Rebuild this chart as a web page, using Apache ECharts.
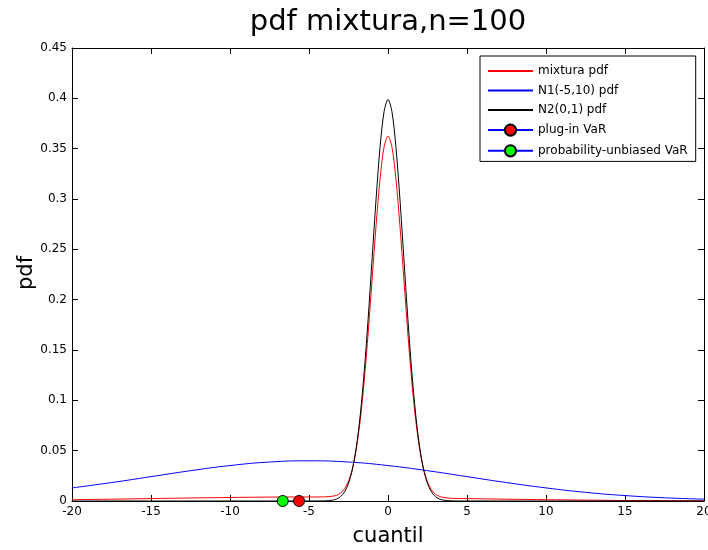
<!DOCTYPE html>
<html>
<head>
<meta charset="utf-8">
<script src="https://cdn.jsdelivr.net/npm/echarts@6/dist/echarts.min.js"></script>
<style>
html,body{margin:0;padding:0;background:#fff;}
#c{width:708px;height:550px;}
</style>
</head>
<body>
<div id="c"></div>
<script>
// ---- data ----
const mixX = [-20,-17.5,-15,-12.5,-10,-7.5,-5,-4,-3.5,-3.25,-3,-2.75,-2.5,-2.25,-2,-1.75,-1.5,-1.25,-1,-0.75,-0.5,-0.25,0,0.25,0.5,0.75,1,1.25,1.5,1.75,2,2.25,2.5,2.75,3,3.25,3.5,4,5,7.5,10,12.5,15,17.5,20];
const mixY = [0.0013,0.0018,0.0024,0.0030,0.0035,0.0039,0.0040,0.0041,0.0048,0.0057,0.0079,0.0121,0.0196,0.0323,0.0524,0.0815,0.1203,0.1680,0.2215,0.2746,0.3205,0.3516,0.3625,0.3515,0.3203,0.2744,0.2211,0.1676,0.1198,0.0809,0.0517,0.0316,0.0188,0.0111,0.0069,0.0046,0.0036,0.0027,0.0024,0.0018,0.0013,0.0009,0.0005,0.0003,0.0002];

const n1X = [-20,-17.5,-15,-12.5,-10,-7.5,-5,-2.5,0,2.5,5,7.5,10,12.5,15,17.5,20];
const n1Y = [0.0130,0.0183,0.0242,0.0301,0.0352,0.0387,0.0399,0.0387,0.0352,0.0301,0.0242,0.0183,0.0130,0.0086,0.0054,0.0032,0.0018];

const n2X = [-20,-10,-5,-4,-3.5,-3.25,-3,-2.75,-2.5,-2.25,-2,-1.75,-1.5,-1.25,-1,-0.75,-0.5,-0.25,0,0.25,0.5,0.75,1,1.25,1.5,1.75,2,2.25,2.5,2.75,3,3.25,3.5,4,5,10,20];
const n2Y = [0,0,0,0.0001,0.0009,0.0020,0.0044,0.0091,0.0175,0.0317,0.0540,0.0863,0.1295,0.1826,0.2420,0.3011,0.3521,0.3867,0.3989,0.3867,0.3521,0.3011,0.2420,0.1826,0.1295,0.0863,0.0540,0.0317,0.0175,0.0091,0.0044,0.0020,0.0009,0.0001,0,0,0];

const plugInVaR = [-5.63, 0];
const unbiasedVaR = [-6.66, 0];

const seriesNames = ['mixtura pdf','N1(-5,10) pdf','N2(0,1) pdf','plug-in VaR','probability-unbiased VaR'];
const titleText = 'pdf mixtura,n=100';
const xLabel = 'cuantil';
const yLabel = 'pdf';

const zip = (xs, ys) => xs.map((x, i) => [x, ys[i]]);

const FONT = 'DejaVu Sans';
const chart = echarts.init(document.getElementById('c'), null, {renderer: 'canvas'});

const axisCommon = {
  axisLine: {show: true, onZero: false, lineStyle: {color: '#000', width: 1}},
  axisTick: {show: true, inside: true, length: 6, lineStyle: {color: '#000'}},
  splitLine: {show: false}
};

const option = {
  backgroundColor: '#fff',
  animation: false,
  textStyle: {fontFamily: FONT},
  grid: {left: 72, right: 4, top: 48, bottom: 49, containLabel: false, outerBoundsMode: 'none'},
  xAxis: [
    Object.assign({type: 'value', min: -20, max: 20, interval: 5, position: 'bottom',
      axisLabel: {color: '#000', fontSize: 12, fontFamily: FONT, margin: 5}}, axisCommon),
    Object.assign({type: 'value', min: -20, max: 20, interval: 5, position: 'top',
      axisLabel: {show: false}}, axisCommon)
  ],
  yAxis: [
    Object.assign({type: 'value', min: 0, max: 0.45, interval: 0.05, position: 'left',
      axisLabel: {color: '#000', fontSize: 12, fontFamily: FONT, margin: 5}}, axisCommon),
    Object.assign({type: 'value', min: 0, max: 0.45, interval: 0.05, position: 'right',
      axisLabel: {show: false}}, axisCommon)
  ],
  legend: {
    orient: 'vertical',
    left: 480, top: 56,
    padding: [9, 8, 4, 7],
    itemGap: 7.5,
    itemWidth: 45,
    itemHeight: 14,
    borderColor: '#000',
    borderWidth: 1,
    backgroundColor: '#fff',
    textStyle: {color: '#000', fontSize: 12, fontFamily: FONT},
    data: [
      {name: seriesNames[0], itemStyle: {opacity: 0}},
      {name: seriesNames[1], itemStyle: {opacity: 0}},
      {name: seriesNames[2], itemStyle: {opacity: 0}},
      {name: seriesNames[3]},
      {name: seriesNames[4]}
    ]
  },
  graphic: [
    {type: 'text', x: 388, y: 22, style: {text: titleText, fill: '#000', font: '29px "DejaVu Sans"', textAlign: 'center', textVerticalAlign: 'middle'}},
    {type: 'text', x: 388, y: 537, style: {text: xLabel, fill: '#000', font: '21px "DejaVu Sans"', textAlign: 'center', textVerticalAlign: 'middle'}},
    {type: 'text', x: 27, y: 273, rotation: Math.PI / 2, style: {text: yLabel, fill: '#000', font: '21px "DejaVu Sans"', textAlign: 'center', textVerticalAlign: 'middle'}}
  ],
  series: [
    {name: seriesNames[0], type: 'line', data: zip(mixX, mixY), symbol: 'none', smooth: 0.3,
      lineStyle: {color: '#ff0000', width: 1}, itemStyle: {color: '#ff0000'}},
    {name: seriesNames[1], type: 'line', data: zip(n1X, n1Y), symbol: 'none', smooth: 0.5,
      lineStyle: {color: '#0000ff', width: 1}, itemStyle: {color: '#0000ff'}},
    {name: seriesNames[2], type: 'line', data: zip(n2X, n2Y), symbol: 'none', smooth: 0.3,
      lineStyle: {color: '#000000', width: 1}, itemStyle: {color: '#000000'}},
    {name: seriesNames[3], type: 'line', data: [plugInVaR], symbol: 'circle', symbolSize: 11, clip: false, z: 5,
      lineStyle: {color: '#0000ff', width: 1}, itemStyle: {color: '#ff0000', borderColor: '#000', borderWidth: 1}},
    {name: seriesNames[4], type: 'line', data: [unbiasedVaR], symbol: 'circle', symbolSize: 11, clip: false, z: 5,
      lineStyle: {color: '#0000ff', width: 1}, itemStyle: {color: '#00ff00', borderColor: '#000', borderWidth: 1}}
  ]
};
chart.setOption(option);
</script>
</body>
</html>
